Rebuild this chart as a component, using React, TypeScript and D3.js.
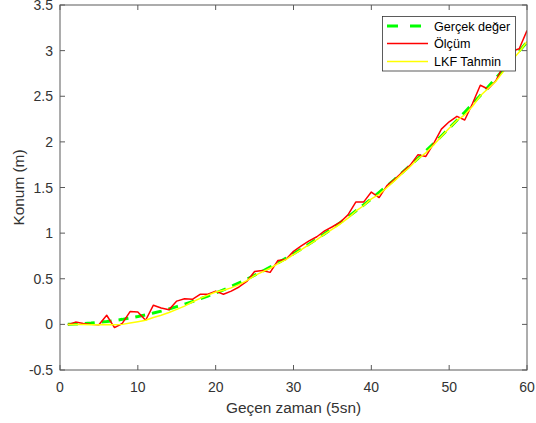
import React from "react";
import * as d3 from "d3";

const steps: number[] = Array.from({ length: 60 }, (_, i) => i + 1);

const trueValues: number[] = [
  0.001, 0.003, 0.008, 0.014, 0.022, 0.031, 0.042, 0.055, 0.07, 0.086,
  0.104, 0.124, 0.145, 0.169, 0.194, 0.22, 0.249, 0.279, 0.31, 0.344,
  0.379, 0.416, 0.455, 0.495, 0.538, 0.581, 0.627, 0.674, 0.723, 0.774,
  0.826, 0.881, 0.937, 0.994, 1.054, 1.115, 1.177, 1.242, 1.308, 1.376,
  1.446, 1.517, 1.59, 1.665, 1.742, 1.82, 1.9, 1.981, 2.065, 2.15,
  2.237, 2.325, 2.416, 2.508, 2.602, 2.697, 2.794, 2.893, 2.994, 3.096,
];

const measured: number[] = [
  -0.005, 0.025, 0.01, 0.0, -0.005, 0.1, -0.035, 0.01, 0.14, 0.135,
  0.045, 0.21, 0.18, 0.16, 0.255, 0.28, 0.275, 0.33, 0.33, 0.365,
  0.33, 0.365, 0.41, 0.47, 0.58, 0.59, 0.57, 0.7, 0.71, 0.8,
  0.86, 0.915, 0.96, 1.025, 1.07, 1.12, 1.2, 1.34, 1.34, 1.45,
  1.39, 1.52, 1.59, 1.67, 1.745, 1.86, 1.84, 1.98, 2.14, 2.22,
  2.28, 2.24, 2.42, 2.62, 2.58, 2.67, 2.84, 2.99, 3.02, 3.22,
];

const estimated: number[] = [
  0.0, 0.0, -0.002, -0.004, -0.004, -0.002, -0.003, 0.0, 0.015, 0.03,
  0.045, 0.075, 0.1, 0.13, 0.165, 0.2, 0.245, 0.285, 0.32, 0.355,
  0.375, 0.4, 0.435, 0.48, 0.535, 0.575, 0.615, 0.665, 0.71, 0.765,
  0.82, 0.875, 0.93, 0.99, 1.045, 1.1, 1.165, 1.24, 1.3, 1.375,
  1.425, 1.5, 1.575, 1.655, 1.73, 1.815, 1.88, 1.965, 2.06, 2.15,
  2.235, 2.295, 2.39, 2.505, 2.585, 2.665, 2.775, 2.89, 2.985, 3.1,
];

const xTicks: number[] = [0, 10, 20, 30, 40, 50, 60];
const yTicks: number[] = [-0.5, 0, 0.5, 1, 1.5, 2, 2.5, 3, 3.5];

const seriesNames: string[] = ["Gerçek değer", "Ölçüm", "LKF Tahmin"];
const xLabel = "Geçen zaman (5sn)";
const yLabel = "Konum (m)";

export default function App() {
  const W = 536, H = 423;
  const L = 60, R = 527, T = 5, B = 370;
  const x = d3.scaleLinear().domain([0, 60]).range([L, R]);
  const y = d3.scaleLinear().domain([-0.5, 3.5]).range([B, T]);
  const line = (vals: number[]) =>
    d3
      .line<number>()
      .x((_, i) => x(steps[i]))
      .y((d) => y(d))(vals) || "";

  const axisColor = "#5a5a5a";
  const textColor = "#333333";
  const font = "'Liberation Sans', Arial, Helvetica, sans-serif";
  const tickLen = 5;

  const legendX = 382.5, legendY = 16.5, legendW = 133, legendH = 54.5;
  const rowY = [26, 43.5, 61.5];
  const styles = [
    { stroke: "#00ff00", width: 3, dash: "10,7" },
    { stroke: "#ff0000", width: 1.5, dash: undefined },
    { stroke: "#ffff00", width: 1.5, dash: undefined },
  ];

  return (
    <svg
      width={W}
      height={H}
      style={{ position: "absolute", left: 0, top: 0, background: "#fff" }}
      fontFamily={font}
    >
      <rect x={0} y={0} width={W} height={H} fill="#fff" />
      <defs>
        <clipPath id="plotclip">
          <rect x={L} y={T} width={R - L} height={B - T} />
        </clipPath>
      </defs>
      <g clipPath="url(#plotclip)">
        <path d={line(trueValues)} fill="none" stroke={styles[0].stroke} strokeWidth={styles[0].width} strokeDasharray={styles[0].dash} />
        <path d={line(measured)} fill="none" stroke={styles[1].stroke} strokeWidth={styles[1].width} strokeLinejoin="round" />
        <path d={line(estimated)} fill="none" stroke={styles[2].stroke} strokeWidth={styles[2].width} strokeLinejoin="round" />
      </g>
      {/* axes box */}
      <rect x={L} y={T} width={R - L} height={B - T} fill="none" stroke={axisColor} strokeWidth={1} />
      {/* x ticks */}
      {xTicks.map((t) => (
        <g key={"x" + t}>
          <line x1={x(t)} x2={x(t)} y1={B} y2={B - tickLen} stroke={axisColor} />
          <line x1={x(t)} x2={x(t)} y1={T} y2={T + tickLen} stroke={axisColor} />
          <text x={x(t)} y={392} textAnchor="middle" fontSize={14} fill={textColor}>
            {t}
          </text>
        </g>
      ))}
      {yTicks.map((t) => (
        <g key={"y" + t}>
          <line x1={L} x2={L + tickLen} y1={y(t)} y2={y(t)} stroke={axisColor} />
          <line x1={R} x2={R - tickLen} y1={y(t)} y2={y(t)} stroke={axisColor} />
          <text x={53} y={y(t) + 5} textAnchor="end" fontSize={14} fill={textColor}>
            {String(t)}
          </text>
        </g>
      ))}
      <text x={(L + R) / 2} y={413} textAnchor="middle" fontSize={15.4} fill={textColor}>
        {xLabel}
      </text>
      <text
        transform={`translate(24,${(T + B) / 2}) rotate(-90)`}
        textAnchor="middle"
        fontSize={15.4}
        fill={textColor}
      >
        {yLabel}
      </text>
      {/* legend */}
      <rect x={legendX} y={legendY} width={legendW} height={legendH} fill="#fff" stroke="#333" strokeWidth={0.8} />
      {seriesNames.map((name, i) => (
        <g key={name}>
          <line
            x1={387}
            x2={428}
            y1={rowY[i]}
            y2={rowY[i]}
            stroke={styles[i].stroke}
            strokeWidth={styles[i].width}
            strokeDasharray={styles[i].dash ? "11,12" : undefined}
          />
          <text x={434} y={rowY[i] + 4.5} fontSize={12.6} fill="#000">
            {name}
          </text>
        </g>
      ))}
    </svg>
  );
}
